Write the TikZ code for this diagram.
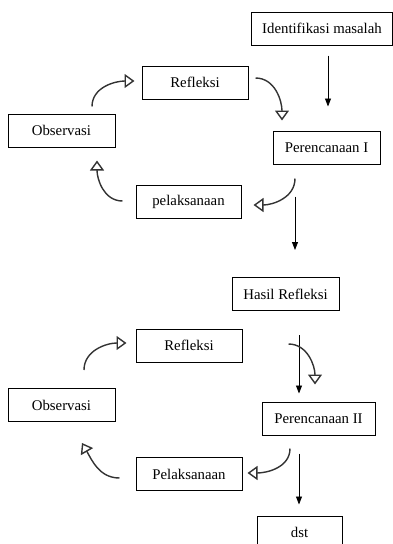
\documentclass[tikz,border=0pt]{standalone}
\usepackage{fontspec}
\setmainfont{Liberation Serif}
\usetikzlibrary{arrows.meta, positioning}

\begin{document}
\begin{tikzpicture}[x=1pt, y=-1pt, font=\fontsize{14.8}{17}\selectfont,
  box/.style={draw, line width=1pt, minimum height=33pt, inner sep=2pt},
  cyc/.style={line width=1.4pt, draw=black!80, -{Triangle[open, length=10pt, width=14pt]}},
  flow/.style={line width=0.8pt, -{Triangle[length=8pt, width=6pt]}}]
\useasboundingbox (0,0) rectangle (393,544);
% first cycle
\node[box, minimum width=141pt] (idm) at (322,28.5) {Identifikasi masalah};
\node[box, minimum width=106pt] (ref1) at (195,82.5) {Refleksi};
\node[box, minimum width=107pt] (obs1) at (61.5,130.5) {Observasi};
\node[box, minimum width=107pt] (per1) at (326.5,147.5) {Perencanaan I};
\node[box, minimum width=105pt] (pel1) at (188.5,202) {pelaksanaan};
% second cycle
\node[box, minimum width=107pt] (hasil) at (285.5,294) {Hasil Refleksi};
\node[box, minimum width=106pt] (ref2) at (189,345.5) {Refleksi};
\node[box, minimum width=107pt] (obs2) at (61.5,405) {Observasi};
\node[box, minimum width=113pt] (per2) at (318.5,418.5) {Perencanaan II};
\node[box, minimum width=106pt] (pel2) at (189,474) {Pelaksanaan};
\node[box, minimum width=85pt] (dst) at (299.5,532.5) {dst};

\draw[flow] ([xshift=6pt,yshift=-10pt]idm.south) -- ([xshift=1.5pt,yshift=24pt]per1.north);
\draw[flow] ([xshift=-31.5pt,yshift=-32pt]per1.south) -- ([xshift=9.5pt,yshift=27pt]hasil.north);
\draw[flow] ([xshift=13.5pt,yshift=-24pt]hasil.south) -- ([xshift=-19.5pt,yshift=8pt]per2.north);
\draw[flow] ([xshift=-19.5pt,yshift=-18pt]per2.south) -- ([xshift=-0.5pt,yshift=11pt]dst.north);

\draw[cyc] ([xshift=30.5pt,yshift=7pt]obs1.north) to[out=90, in=180] ([xshift=-7pt,yshift=1.5pt]ref1.west);
\draw[cyc] ([xshift=7pt,yshift=4.5pt]ref1.east) to[out=0, in=90] ([xshift=-44.5pt,yshift=10pt]per1.north);
\draw[cyc] ([xshift=-31.5pt,yshift=-14pt]per1.south) to[out=-90, in=0] ([xshift=12pt,yshift=-3pt]pel1.east);
\draw[cyc] ([xshift=-13pt,yshift=1pt]pel1.west) to[out=180, in=-90] ([xshift=35.5pt,yshift=-13pt]obs1.south);

\draw[cyc] ([xshift=22.5pt,yshift=18pt]obs2.north) to[out=90, in=180] ([xshift=-9pt,yshift=2.5pt]ref2.west);
\draw[cyc] ([xshift=46pt,yshift=1.5pt]ref2.east) to[out=0, in=90] ([xshift=-3.5pt,yshift=17pt]per2.north);
\draw[cyc] ([xshift=-28.5pt,yshift=-13pt]per2.south) to[out=-90, in=0] ([xshift=5pt,yshift=1pt]pel2.east);
\draw[cyc] ([xshift=-16pt,yshift=-4pt]pel2.west) to[out=180, in=-60] ([xshift=20.5pt,yshift=-21pt]obs2.south);
\end{tikzpicture}
\end{document}
